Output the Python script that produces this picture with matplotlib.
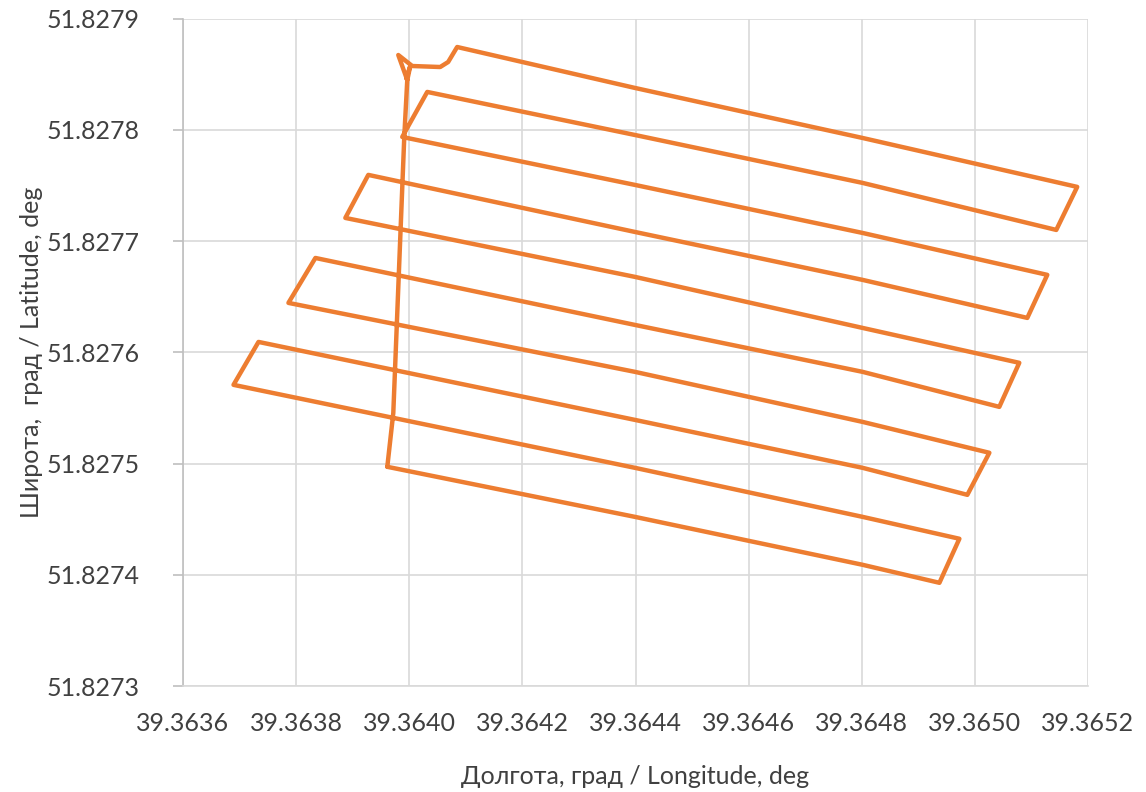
import matplotlib.pyplot as plt
import matplotlib as mpl

# flight track (deg)
lon = [
    39.3639612, 39.3643989, 39.3648014, 39.3649373, 39.3649726,
    39.3648014, 39.3643989, 39.3636893, 39.3637335, 39.3643989,
    39.3648014, 39.3649867, 39.3650256, 39.3648014, 39.3643989,
    39.3637864, 39.3638341, 39.3643989, 39.3648014, 39.3650432,
    39.3650785, 39.3648014, 39.3643989, 39.3638870, 39.3639276,
    39.3643989, 39.3648014, 39.3650927, 39.3651280, 39.3648014,
    39.3643989, 39.3639876, 39.3640318, 39.3643989, 39.3648014,
    39.3651439, 39.3651809, 39.3648014, 39.3643989, 39.3640847,
    39.3640688, 39.3640547, 39.3640053, 39.3639806, 39.3639965,
    39.3640018, 39.3639947, 39.3639965, 39.3639912, 39.3639718,
    39.3639612,
]
lat = [
    51.8274971, 51.8274521, 51.8274090, 51.8273928, 51.8274324,
    51.8274521, 51.8274962, 51.8275708, 51.8276094, 51.8275393,
    51.8274962, 51.8274719, 51.8275097, 51.8275375, 51.8275825,
    51.8276445, 51.8276849, 51.8276247, 51.8275825, 51.8275510,
    51.8275906, 51.8276220, 51.8276679, 51.8277209, 51.8277596,
    51.8277083, 51.8276652, 51.8276310, 51.8276697, 51.8277074,
    51.8277506, 51.8277937, 51.8278342, 51.8277955, 51.8277524,
    51.8277101, 51.8277488, 51.8277928, 51.8278378, 51.8278746,
    51.8278611, 51.8278566, 51.8278575, 51.8278674, 51.8278449,
    51.8278575, 51.8278467, 51.8278449, 51.8277937, 51.8275456,
    51.8274971,
]

x_ticks = [39.3636, 39.3638, 39.3640, 39.3642, 39.3644, 39.3646, 39.3648, 39.3650, 39.3652]
y_ticks = [51.8273, 51.8274, 51.8275, 51.8276, 51.8277, 51.8278, 51.8279]

x_label = "Долгота, град / Longitude, deg"
y_label = "Широта,  град / Latitude, deg"

mpl.rcParams["font.family"] = ["Lato", "DejaVu Sans"]

fig = plt.figure(figsize=(11.46, 7.92), dpi=100)
ax = fig.add_axes([183 / 1146, 1 - 686 / 792, (1088 - 183) / 1146, (686 - 18.75) / 792])

ax.plot(lon, lat, color="#ED7D31", lw=3.2, solid_joinstyle="round", solid_capstyle="round")

ax.set_xlim(x_ticks[0], x_ticks[-1])
ax.set_ylim(y_ticks[0], y_ticks[-1])
ax.set_xticks(x_ticks)
ax.set_yticks(y_ticks)
ax.set_xticklabels([f"{v:.4f}" for v in x_ticks])
ax.set_yticklabels([f"{v:.4f}" for v in y_ticks])

ax.grid(True, color="#D9D9D9", lw=1.2)
ax.set_axisbelow(True)
for s in ["top", "right"]:
    ax.spines[s].set_visible(False)
ax.spines["left"].set_color("#BFBFBF")
ax.spines["bottom"].set_color("#D9D9D9")
ax.spines["left"].set_linewidth(1.2)
ax.spines["bottom"].set_linewidth(1.2)

ax.tick_params(axis="y", length=7, color="#BFBFBF", width=1.2, pad=24, labelsize=18, labelcolor="#404040")
ax.tick_params(axis="x", length=0, pad=19, labelsize=18, labelcolor="#404040")

ax.set_xlabel(x_label, fontsize=18, color="#404040", labelpad=21)
ax.set_ylabel(y_label, fontsize=18, color="#404040", labelpad=3)

fig.savefig("out.png", dpi=100)
